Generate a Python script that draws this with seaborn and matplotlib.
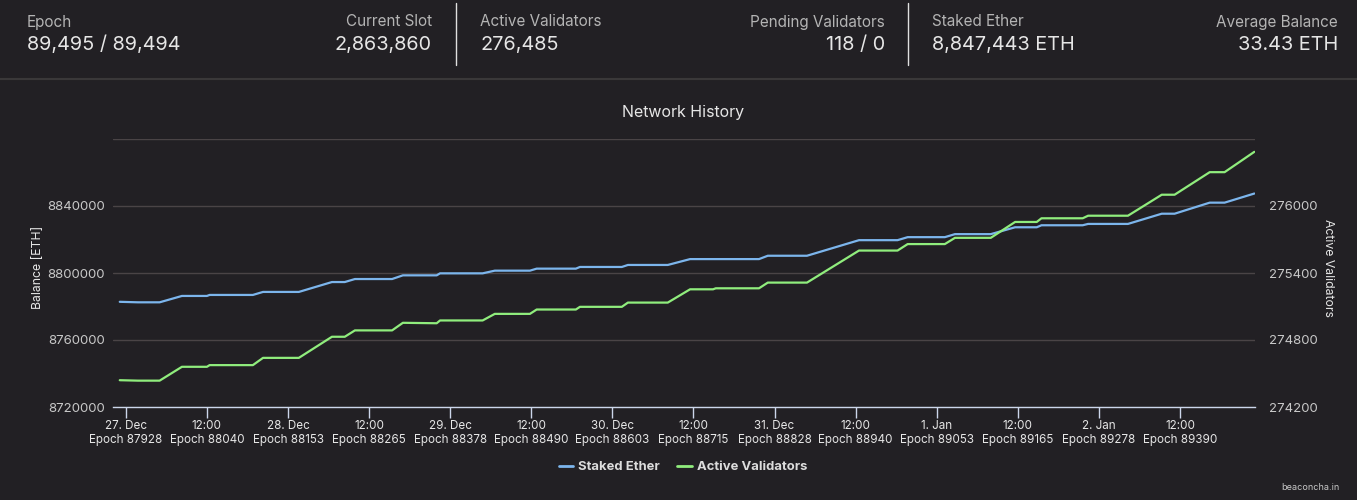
import matplotlib
matplotlib.use("Agg")
import matplotlib.pyplot as plt
import seaborn as sns
import pandas as pd
from matplotlib.lines import Line2D

# ---------------- data ----------------
# hours since 27 Dec 00:00
hours = [-0.9, 1.8, 5.0, 8.3, 12.0, 12.4, 18.8, 20.3, 25.6, 30.5, 32.4, 33.9, 39.4, 41.0,
         46.0, 46.5, 52.8, 54.6, 59.8, 60.8, 66.6, 67.2, 73.4, 74.3, 80.2, 83.5, 86.9, 87.3,
         93.7, 95.0, 100.8, 108.5, 114.2, 115.7, 121.2, 122.7, 128.0, 131.6, 134.8, 135.5,
         141.6, 142.4, 148.3, 153.3, 155.2, 160.4, 162.6, 167.0]
staked_ether = [8782800, 8782500, 8782500, 8786300, 8786300, 8786900, 8786900, 8788700,
                8788700, 8794600, 8794600, 8796400, 8796400, 8798600, 8798600, 8799800,
                8799800, 8801400, 8801400, 8802600, 8802600, 8803600, 8803600, 8804800,
                8804800, 8808300, 8808300, 8808300, 8808300, 8810300, 8810300, 8819600,
                8819600, 8821400, 8821400, 8823200, 8823200, 8827300, 8827300, 8828500,
                8828500, 8829300, 8829300, 8835400, 8835400, 8842000, 8842000, 8847443]
active_validators = [274440, 274436, 274436, 274560, 274560, 274575, 274575, 274640,
                     274640, 274829, 274829, 274886, 274886, 274954, 274950, 274975,
                     274975, 275034, 275034, 275073, 275073, 275097, 275097, 275135,
                     275135, 275254, 275254, 275263, 275263, 275314, 275314, 275601,
                     275601, 275659, 275659, 275715, 275715, 275857, 275857, 275890,
                     275890, 275913, 275913, 276101, 276101, 276303, 276303, 276485]

tick_hours = [0, 12, 24, 36, 48, 60, 72, 84, 96, 108, 120, 132, 144, 156]
tick_dates = ["27. Dec", "12:00", "28. Dec", "12:00", "29. Dec", "12:00", "30. Dec",
              "12:00", "31. Dec", "12:00", "1. Jan", "12:00", "2. Jan", "12:00"]
tick_epochs = [87928, 88040, 88153, 88265, 88378, 88490, 88603, 88715, 88828, 88940,
               89053, 89165, 89278, 89390]

left_ticks = [8720000, 8760000, 8800000, 8840000, 8880000]
right_ticks = [274200, 274800, 275400, 276000, 276600]

header_labels = ["Epoch", "Current Slot", "Active Validators", "Pending Validators",
                 "Staked Ether", "Average Balance"]
header_values = ["89,495 / 89,494", "2,863,860", "276,485", "118 / 0",
                 "8,847,443 ETH", "33.43 ETH"]

# ---------------- style ----------------
BG = "#222024"
BLUE = "#7cb5ec"
GREEN = "#90ed7d"
sns.set_theme(style="dark")
plt.rcParams["font.family"] = ["Inter", "DejaVu Sans"]

W, H = 1357, 500
fig = plt.figure(figsize=(W / 100, H / 100), dpi=100, facecolor=BG)

def fx(px):
    return px / W

def fy(py):
    return 1 - py / H

ax = fig.add_axes([fx(113), fy(407), fx(1255) - fx(113), fy(139) - fy(407)])
ax.set_facecolor(BG)
ax2 = ax.twinx()
ax2.set_facecolor("none")

df = pd.DataFrame({"hours": hours, "staked": staked_ether, "active": active_validators})
sns.lineplot(data=df, x="hours", y="staked", ax=ax, color=BLUE, linewidth=1.6, legend=False)
sns.lineplot(data=df, x="hours", y="active", ax=ax2, color=GREEN, linewidth=1.6, legend=False)

ax.set_xlim(-1.9, 167.1)
ax.set_ylim(8720000, 8880000)
ax2.set_ylim(274200, 276600)

ax.set_xticks(tick_hours)
ax.set_xticklabels([f"{d}\nEpoch {e}" for d, e in zip(tick_dates, tick_epochs)],
                   fontsize=8.4, color="#e6e6e6", linespacing=1.25)
ax.tick_params(axis="x", bottom=True, length=8, width=1, color="#ccd6eb", pad=1.5,
               direction="out")
ax2.tick_params(axis="x", bottom=False, top=False)

ax.set_yticks(left_ticks)
ax.set_yticklabels([str(v) for v in left_ticks[:-1]] + [""], fontsize=9.5, color="#c8c8c8")
ax.tick_params(axis="y", left=False, length=0, pad=6)
ax2.set_yticks(right_ticks)
ax2.set_yticklabels([str(v) for v in right_ticks[:-1]] + [""], fontsize=9.5, color="#c8c8c8")
ax2.tick_params(axis="y", right=False, length=0, pad=10)

ax.yaxis.grid(True, color="#4a4446", linewidth=1)
ax.xaxis.grid(False)
ax2.grid(False)

for a in (ax, ax2):
    for s in ["top", "left", "right", "bottom"]:
        a.spines[s].set_visible(False)
ax.spines["bottom"].set_visible(True)
ax.spines["bottom"].set_color("#ccd6eb")
ax.spines["bottom"].set_linewidth(1)

ax.set_xlabel("")
ax.set_ylabel("Balance [ETH]", fontsize=8.8, color="#e6e6e6")
ax.yaxis.set_label_coords(-0.06, 0.52)
ax2.set_ylabel("Active Validators", fontsize=8.8, color="#e6e6e6", rotation=270)
ax2.yaxis.set_label_coords(1.069, 0.52)

fig.text(fx(683), fy(111), "Network History", fontsize=11.5, color="#e6e6e6",
         ha="center", va="center_baseline")

# legend
handles = [Line2D([0], [0], color=BLUE, lw=2), Line2D([0], [0], color=GREEN, lw=2)]
leg = fig.legend(handles, ["Staked Ether", "Active Validators"], loc="center",
                 bbox_to_anchor=(fx(683), fy(467)), ncol=2, frameon=False,
                 handlelength=1.1, handletextpad=0.4, columnspacing=1.3,
                 prop={"weight": "bold", "size": 9.4})
for t in leg.get_texts():
    t.set_color("#dcdcdc")

fig.text(fx(1340), fy(488), "beaconcha.in", fontsize=6.5, color="#c8c8c8",
         ha="right", va="center")

# header
label_pos = [(27, "left"), (432, "right"), (480, "left"), (885, "right"),
             (932, "left"), (1338, "right")]
for (x, ha), lab, val in zip(label_pos, header_labels, header_values):
    fig.text(fx(x), fy(22), lab, fontsize=11, color="#b4b4b4", ha=ha, va="center")
    fig.text(fx(x), fy(45), val, fontsize=14.3, color="#e6e6e6", ha=ha, va="center")

for x in (456, 908):
    fig.add_artist(Line2D([fx(x), fx(x)], [fy(3), fy(65)], color="#e0e0e0", lw=1))
fig.add_artist(Line2D([0, 1], [fy(79), fy(79)], color="#3a3839", lw=1.5))

fig.savefig("out.png", dpi=100, facecolor=BG)
